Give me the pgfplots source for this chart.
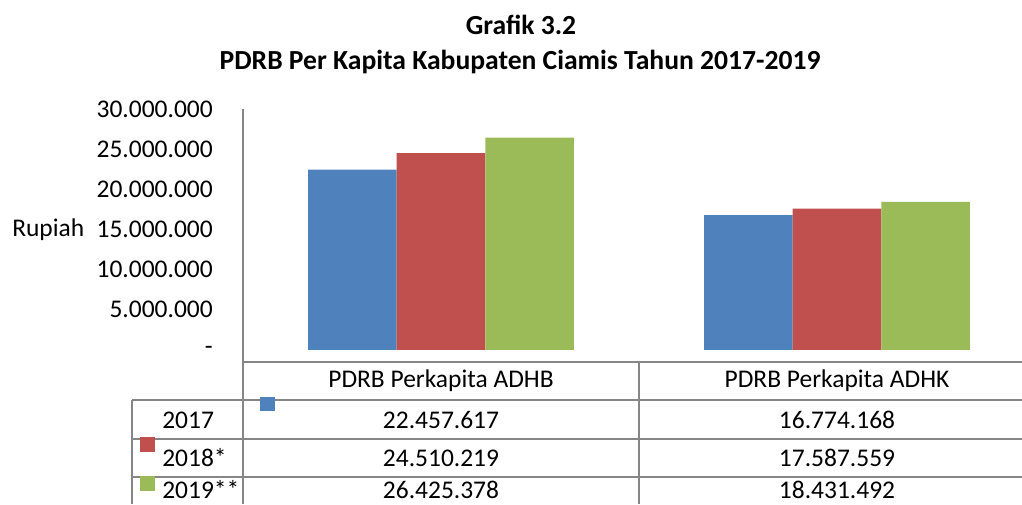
\documentclass[border=0pt]{standalone}
\usepackage{pgfplots}
\pgfplotsset{compat=1.18}
\usepackage{fontspec}
\setmainfont{Carlito}
\definecolor{cblue}{HTML}{4F81BD}
\definecolor{cred}{HTML}{C0504D}
\definecolor{cgreen}{HTML}{9BBB59}
\definecolor{gline}{HTML}{868686}
\newcommand{\tfont}{\fontsize{19.1}{22}\selectfont}
\begin{document}
\begin{tikzpicture}[x=0.75pt,y=0.75pt]
\path[use as bounding box] (0,0) rectangle (1022,504);
\clip (0,0) rectangle (1022,504);
% titles
\node[font=\fontsize{20.7}{24}\selectfont\bfseries] at (521,504-25) {Grafik 3.2};
\node[font=\fontsize{20.7}{24}\selectfont\bfseries] at (520,504-62) {PDRB Per Kapita Kabupaten Ciamis Tahun 2017-2019};
\node[font=\tfont, anchor=west, inner sep=0pt] at (12,504-230) {Rupiah};
\begin{axis}[
  at={(182.25pt,115.5pt)}, anchor=south west,
  scale only axis, width=594pt, height=180.75pt,
  xmin=0, xmax=2, ymin=0, ymax=30000000,
  ybar=0pt, bar width=66.4pt,
  separate axis lines,
  axis x line*=bottom, axis y line*=left,
  x axis line style={draw=none}, y axis line style={draw=none},
  xtick=\empty,
  scaled y ticks=false,
  ytick={0,5000000,10000000,15000000,20000000,25000000,30000000},
  yticklabels={-,5.000.000,10.000.000,15.000.000,20.000.000,25.000.000,30.000.000},
  major tick length=0pt,
  yticklabel style={font=\tfont, inner sep=0pt, anchor=east, xshift=-22.5pt},
  clip=false,
]
\addplot[fill=cblue, draw=none] coordinates {(0.5,22457617) (1.5,16774168)};
\addplot[fill=cred, draw=none] coordinates {(0.5,24510219) (1.5,17587559)};
\addplot[fill=cgreen, draw=none] coordinates {(0.5,26425378) (1.5,18431492)};
\end{axis}
% table grid
\begin{scope}[draw=gline, line width=1pt]
\draw (243,504-109) -- (243,0);
\draw (243,504-362) -- (1022,504-362);
\draw (132,504-400) -- (1022,504-400);
\draw (132,504-439) -- (1022,504-439);
\draw (132,504-477) -- (1022,504-477);
\draw (132,504-400) -- (132,0);
\draw (639,504-362) -- (639,0);
\end{scope}
% legend keys
\fill[cblue] (260,504-397) rectangle (275,504-411);
\fill[cred] (140,504-437) rectangle (155,504-452);
\fill[cgreen] (140,504-476) rectangle (155,504-491);
% table text
\begin{scope}[every node/.style={font=\tfont, inner sep=0pt}]
\node at (441,504-381) {PDRB Perkapita ADHB};
\node at (837,504-381) {PDRB Perkapita ADHK};
\node[anchor=west] at (162,504-420) {2017};
\node[anchor=west] at (162,504-458) {2018*};
\node[anchor=west] at (162,504-490) {2019**};
\node at (441,504-420) {22.457.617};
\node at (441,504-458) {24.510.219};
\node at (441,504-490) {26.425.378};
\node at (837,504-420) {16.774.168};
\node at (837,504-458) {17.587.559};
\node at (837,504-490) {18.431.492};
\end{scope}
\end{tikzpicture}
\end{document}
